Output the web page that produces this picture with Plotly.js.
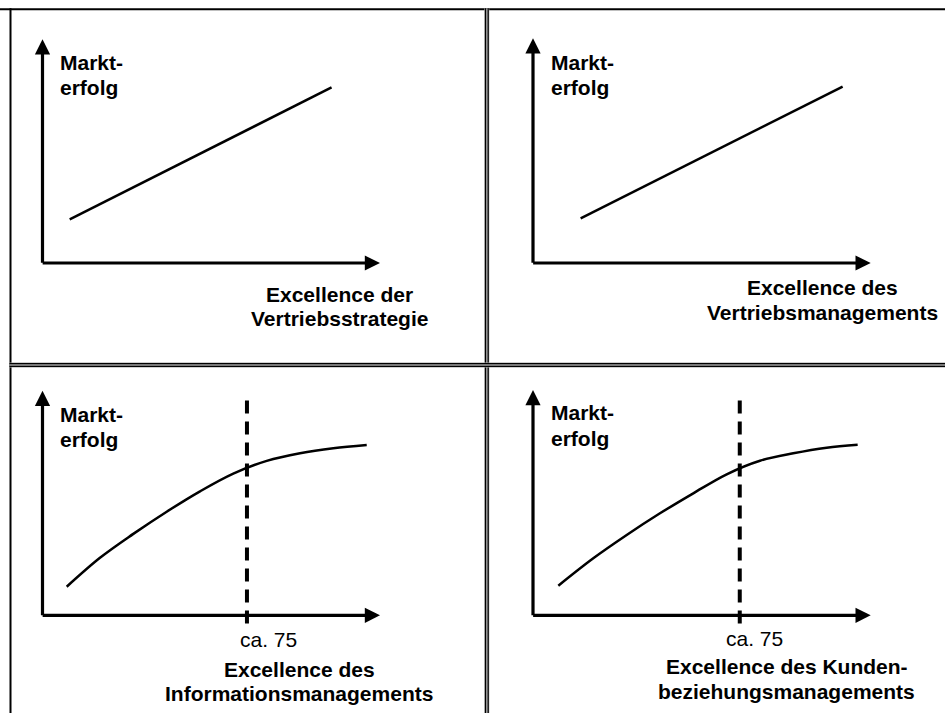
<!DOCTYPE html>
<html><head><meta charset="utf-8">
<script src="https://cdn.plot.ly/plotly-3.0.1.min.js"></script>
<style>html,body{margin:0;padding:0;background:#fff}#chart{width:945px;height:713px}</style>
</head><body><div id="chart"></div>
<script>
// ---- data ----
const yAxisLabel = ['Markt-', 'erfolg'];
const xAxisLabels = [
  ['Excellence der', 'Vertriebsstrategie'],
  ['Excellence des', 'Vertriebsmanagements'],
  ['Excellence des', 'Informationsmanagements'],
  ['Excellence des Kunden-', 'beziehungsmanagements']
];
const lineX_TL = [10, 106.2];
const lineY_TL = [19.5, 78.5];
const lineX_TR = [17.5, 113.7];
const lineY_TR = [19.9, 78.5];
const curveX_BL = [8.88, 21.09, 33.31, 45.56, 57.78, 69.99, 82.25, 94.46, 106.68, 118.93];
const curveY_BL = [12.73, 25.60, 36.24, 46.13, 55.21, 63.09, 68.74, 72.17, 74.40, 75.82];
const curveX_BR = [9.18, 21.87, 33.99, 46.06, 58.14, 70.26, 82.34, 94.41, 106.53, 117.77];
const curveY_BR = [13.14, 25.30, 35.64, 45.27, 54.15, 62.60, 68.62, 71.90, 74.39, 75.72];
const thresholdX = [75, 75];
const thresholdY = [-3.6, 95.9];
const thresholdLabel = 'ca. 75';

// ---- layout geometry (pixels) ----
const W = 945, H = 713;
const FONT = 'Arial, "Liberation Sans", sans-serif';
const FS = 21;
const panels = [
  {ox: 42.5, oy: 263,   tipX: 380,   tipY: 39.3,  xr: 124},
  {ox: 533,  oy: 263,   tipX: 870.7, tipY: 38.3,  xr: 124},
  {ox: 42.5, oy: 615.3, tipX: 380,   tipY: 390.7, xr: 123.8},
  {ox: 533,  oy: 615.3, tipX: 870.7, tipY: 390,   xr: 122.5}
];
const YMIN = -10;

const layout = {
  width: W, height: H,
  margin: {l: 0, r: 0, t: 0, b: 0, pad: 0},
  paper_bgcolor: '#fff', plot_bgcolor: 'rgba(0,0,0,0)',
  showlegend: false,
  font: {family: FONT, color: '#000', size: FS},
  shapes: [], annotations: []
};

panels.forEach((p, i) => {
  const n = i + 1;
  const sy = (p.oy - p.tipY) / 100;
  const bottomPx = p.oy - YMIN * sy;
  layout['xaxis' + n] = {
    domain: [p.ox / W, p.tipX / W], range: [0, p.xr], autorange: false,
    visible: false, showgrid: false, zeroline: false, fixedrange: true, anchor: 'y' + n
  };
  layout['yaxis' + n] = {
    domain: [1 - bottomPx / H, 1 - p.tipY / H], range: [YMIN, 100], autorange: false,
    visible: false, showgrid: false, zeroline: false, fixedrange: true, anchor: 'x' + n
  };
  const xr = n === 1 ? 'x' : 'x' + n, yr = n === 1 ? 'y' : 'y' + n;
  // axis arrows
  layout.annotations.push({
    xref: xr, yref: yr, axref: xr, ayref: yr,
    x: p.xr, y: 0, ax: -0.5, ay: 0, text: '', showarrow: true,
    arrowhead: 2, arrowsize: 0.95, arrowwidth: 3.2, arrowcolor: '#000', standoff: 0, startstandoff: 0
  });
  layout.annotations.push({
    xref: xr, yref: yr, axref: xr, ayref: yr,
    x: 0, y: 100, ax: 0, ay: -0.6, text: '', showarrow: true,
    arrowhead: 2, arrowsize: 0.95, arrowwidth: 3.2, arrowcolor: '#000', standoff: 0, startstandoff: 0
  });
});
layout.xaxis = layout.xaxis1; delete layout.xaxis1;
layout.yaxis = layout.yaxis1; delete layout.yaxis1;
layout.xaxis.anchor = 'y'; layout.yaxis.anchor = 'x';

// overlay pixel-space axes for frame and labels
layout.xaxis5 = {domain: [0, 1], range: [0, W], autorange: false, visible: false, fixedrange: true, anchor: 'y5'};
layout.yaxis5 = {domain: [0, 1], range: [H, 0], autorange: false, visible: false, fixedrange: true, anchor: 'x5'};

function px(x0, y0, x1, y1, color, w) {
  layout.shapes.push({type: 'line', xref: 'x5', yref: 'y5', x0, y0, x1, y1,
    line: {color, width: w}, layer: 'above'});
}
// outer frame
px(0, 9.3, W, 9.3, '#000', 2);
px(10.5, 8.3, 10.5, H, '#000', 2);
// double divider lines
px(486.8, 8.3, 486.8, H, '#a0a0a0', 5);
px(485.5, 8.3, 485.5, H, '#000', 1.2);
px(488.2, 8.3, 488.2, H, '#000', 1.2);
px(9.5, 365, W, 365, '#a0a0a0', 5);
px(9.5, 363.6, W, 363.6, '#000', 1.2);
px(9.5, 366.4, W, 366.4, '#000', 1.2);

function label(text, x, y, xanchor, bold) {
  layout.annotations.push({xref: 'x5', yref: 'y5', x, y, text, showarrow: false,
    xanchor, yanchor: 'middle',
    font: {family: FONT, size: FS, color: '#000', weight: bold ? 'bold' : 'normal'}});
}
// y labels
const yLab = [[58.3, 62.3, 87], [549.3, 62.3, 87], [58.3, 414, 439], [549.3, 412.5, 438]];
yLab.forEach(a => { label(yAxisLabel[0], a[0], a[1], 'left', true); label(yAxisLabel[1], a[0], a[2], 'left', true); });
// x labels
const xLab = [[339.5, 294, 318], [822.5, 287, 312], [299, 669.7, 693.5], [786.5, 666.3, 691]];
xLab.forEach((a, i) => { label(xAxisLabels[i][0], a[0], a[1], 'center', true); label(xAxisLabels[i][1], a[0], a[2], 'center', true); });
// threshold labels
label(thresholdLabel, 268.7, 639.7, 'center', false);
label(thresholdLabel, 754.3, 638, 'center', false);

const solid = {color: '#000', width: 2.5};
const curve = {color: '#000', width: 2.5, shape: 'spline', smoothing: 1};
const dashed = {color: '#000', width: 4, dash: '13px,8px'};
const data = [
  {x: lineX_TL, y: lineY_TL, xaxis: 'x', yaxis: 'y', mode: 'lines', line: solid, hoverinfo: 'skip'},
  {x: lineX_TR, y: lineY_TR, xaxis: 'x2', yaxis: 'y2', mode: 'lines', line: solid, hoverinfo: 'skip'},
  {x: curveX_BL, y: curveY_BL, xaxis: 'x3', yaxis: 'y3', mode: 'lines', line: curve, hoverinfo: 'skip'},
  {x: curveX_BR, y: curveY_BR, xaxis: 'x4', yaxis: 'y4', mode: 'lines', line: curve, hoverinfo: 'skip'},
  {x: thresholdX, y: thresholdY, xaxis: 'x3', yaxis: 'y3', mode: 'lines', line: dashed, hoverinfo: 'skip'},
  {x: thresholdX, y: thresholdY, xaxis: 'x4', yaxis: 'y4', mode: 'lines', line: dashed, hoverinfo: 'skip'},
  {x: [], y: [], xaxis: 'x5', yaxis: 'y5', mode: 'lines', hoverinfo: 'skip'}
];

Plotly.newPlot('chart', data, layout, {displayModeBar: false, staticPlot: true});
</script>
</body></html>
